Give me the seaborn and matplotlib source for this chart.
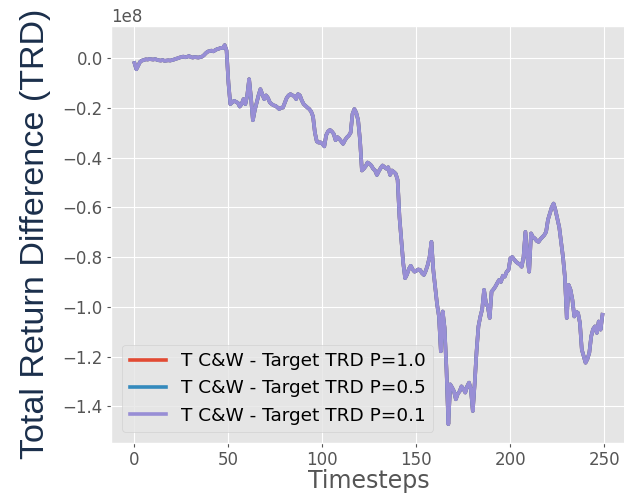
import numpy as np
import pandas as pd
import matplotlib
matplotlib.use("Agg")
import matplotlib.pyplot as plt
import seaborn as sns

# ---- data (values in units of 1e8) ----
timesteps = list(range(250))
trd_values = [
    -0.020, -0.045, -0.030, -0.015, -0.010, -0.008, -0.005, -0.006, -0.004, -0.005,
    -0.006, -0.004, -0.007, -0.009, -0.010, -0.008, -0.011, -0.010, -0.009, -0.010,
    -0.008, -0.006, -0.003, -0.001, 0.002, 0.004, 0.006, 0.003, 0.005, 0.008,
    0.004, 0.002, 0.004, 0.003, 0.002, 0.004, 0.006, 0.012, 0.020, 0.026,
    0.028, 0.030, 0.027, 0.032, 0.036, 0.038, 0.041, 0.040, 0.052, 0.030,
    -0.100, -0.185, -0.178, -0.172, -0.176, -0.180, -0.195, -0.185, -0.165, -0.185,
    -0.150, -0.085, -0.160, -0.250, -0.210, -0.180, -0.150, -0.125, -0.145, -0.165,
    -0.150, -0.160, -0.178, -0.185, -0.190, -0.192, -0.198, -0.205, -0.200, -0.199,
    -0.180, -0.160, -0.150, -0.145, -0.150, -0.152, -0.165, -0.145, -0.150, -0.170,
    -0.185, -0.192, -0.199, -0.205, -0.215, -0.235, -0.300, -0.335, -0.340, -0.339,
    -0.345, -0.355, -0.310, -0.295, -0.289, -0.295, -0.305, -0.330, -0.318, -0.325,
    -0.335, -0.345, -0.330, -0.319, -0.312, -0.300, -0.225, -0.205, -0.220, -0.250,
    -0.330, -0.452, -0.445, -0.435, -0.420, -0.425, -0.432, -0.445, -0.452, -0.470,
    -0.455, -0.442, -0.432, -0.438, -0.445, -0.439, -0.470, -0.452, -0.458, -0.465,
    -0.490, -0.640, -0.730, -0.825, -0.885, -0.870, -0.848, -0.835, -0.850, -0.859,
    -0.855, -0.850, -0.852, -0.865, -0.872, -0.855, -0.832, -0.800, -0.739, -0.852,
    -0.920, -0.990, -1.039, -1.179, -1.019, -1.085, -1.252, -1.472, -1.312, -1.325,
    -1.340, -1.372, -1.350, -1.340, -1.320, -1.330, -1.345, -1.320, -1.305, -1.332,
    -1.419, -1.310, -1.180, -1.079, -1.040, -1.010, -0.932, -0.985, -1.000, -1.045,
    -0.939, -0.930, -0.919, -0.905, -0.892, -0.900, -0.875, -0.879, -0.860, -0.852,
    -0.805, -0.800, -0.810, -0.819, -0.825, -0.830, -0.839, -0.800, -0.699, -0.799,
    -0.859, -0.705, -0.720, -0.725, -0.735, -0.739, -0.728, -0.720, -0.712, -0.699,
    -0.650, -0.625, -0.600, -0.585, -0.612, -0.645, -0.680, -0.740, -0.800, -0.880,
    -1.045, -0.912, -0.932, -0.972, -1.039, -1.020, -1.025, -1.065, -1.172, -1.199,
    -1.225, -1.210, -1.185, -1.119, -1.090, -1.079, -1.105, -1.059, -1.092, -1.032,
]
series_labels = ["T C&W - Target TRD P=1.0",
                 "T C&W - Target TRD P=0.5",
                 "T C&W - Target TRD P=0.1"]
# the three curves coincide in the picture; only the last one is visible
trd_p10 = trd_values
trd_p05 = trd_values
trd_p01 = trd_values
series_colors = ["#E24A33", "#348ABD", "#988ED5"]

plt.style.use("ggplot")

frames = []
for lab, vals in zip(series_labels, [trd_p10, trd_p05, trd_p01]):
    frames.append(pd.DataFrame({"Timesteps": timesteps,
                                "TRD": np.array(vals) * 1e8,
                                "series": lab}))
df = pd.concat(frames, ignore_index=True)

fig = plt.figure(figsize=(6.24, 4.94), dpi=100)
ax = fig.add_axes([0.178, 0.103, 0.825, 0.844])

sns.lineplot(data=df, x="Timesteps", y="TRD", hue="series",
             hue_order=series_labels, palette=series_colors,
             estimator=None, linewidth=2.6, ax=ax)

ax.set_xlabel("Timesteps", fontsize=17, color="#555555", labelpad=0)
ax.set_ylabel("")
ax.tick_params(axis="both", labelsize=12, colors="#555555",
               labelcolor="#555555", length=3, pad=3)
ax.yaxis.get_offset_text().set_fontsize(12)
ax.yaxis.get_offset_text().set_color("#555555")
ax.set_xticks([0, 50, 100, 150, 200, 250])

leg = ax.legend(loc="lower left", fontsize=13.3, handlelength=2.0,
                borderaxespad=0.6)
leg.set_title(None)

fig.text(0.057, 0.527, "Total Return Difference (TRD)", rotation=90,
         ha="center", va="center", fontsize=24.6, color="#1b2f4b",
         family=["Liberation Sans", "DejaVu Sans"])

fig.savefig("out.png", dpi=100)
